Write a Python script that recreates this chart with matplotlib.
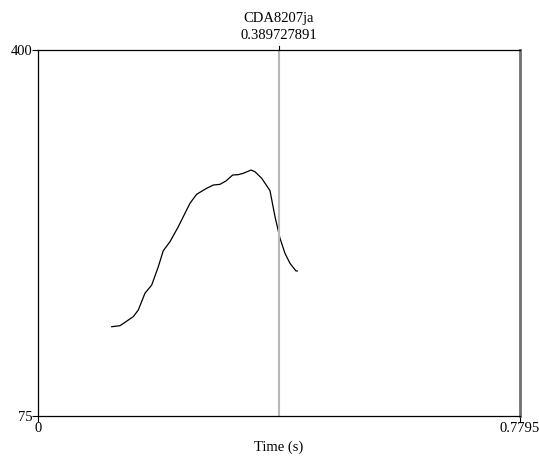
import matplotlib
matplotlib.use('Agg')
import matplotlib.pyplot as plt

plt.rcParams['font.family'] = ['Liberation Serif', 'DejaVu Serif']

# pitch contour (time in s, pitch in Hz)
times = [0.1192, 0.1326, 0.1407, 0.1541, 0.1622, 0.1730, 0.1839, 0.1946,
         0.2026, 0.2135, 0.2269, 0.2377, 0.2458, 0.2566, 0.2728, 0.2835,
         0.2943, 0.3040, 0.3149, 0.3239, 0.3320, 0.3445, 0.3509, 0.3618,
         0.3752, 0.3833, 0.3914, 0.3994, 0.4075, 0.4172, 0.4193]
pitch = [154.3, 155.2, 158.2, 163.2, 169.1, 184.0, 191.3, 207.6,
         221.8, 229.8, 243.1, 255.0, 263.9, 271.9, 277.2, 280.1,
         280.7, 283.7, 289.0, 289.3, 290.5, 293.4, 291.9, 286.1,
         275.1, 252.0, 232.8, 219.5, 210.6, 203.8, 203.8]

title = 'CDA8207ja'
cursor = 0.389727891
t_min, t_max = 0, 0.7795
f_min, f_max = 75, 400

fig = plt.figure(figsize=(5.39, 4.57), dpi=100)
ax = fig.add_axes([0.0705, 0.0897, 0.8942, 0.8009])

ax.plot(times, pitch, color='black', linewidth=0.9)
ax.axvline(cursor, color='#b8b8b8', linewidth=1.5)

ax.set_xlim(t_min, t_max)
ax.set_ylim(f_min, f_max)
ax.set_xticks([t_min, t_max])
ax.set_xticklabels(['0', '0.7795'])
ax.set_yticks([f_min, f_max])
ax.set_yticklabels(['75', '400'])
ax.tick_params(length=4, width=0.8, pad=0, labelsize=10.5, colors='black')
ax.set_xlabel('Time (s)', fontsize=10.5, labelpad=4)

for s in ['top', 'bottom', 'left']:
    ax.spines[s].set_linewidth(0.9)
ax.spines['right'].set_color('#707070')
ax.spines['right'].set_linewidth(2.0)

# small tick on top at cursor position, plus the two-line title
ax.plot([cursor, cursor], [1.0, 1.012], color='black', linewidth=0.8,
        transform=ax.get_xaxis_transform(), clip_on=False)
ax.text(cursor, 1.022, title + '\n' + str(cursor), ha='center', va='bottom',
        fontsize=10.5, linespacing=1.4, transform=ax.get_xaxis_transform())

fig.savefig('out.png', dpi=100)
